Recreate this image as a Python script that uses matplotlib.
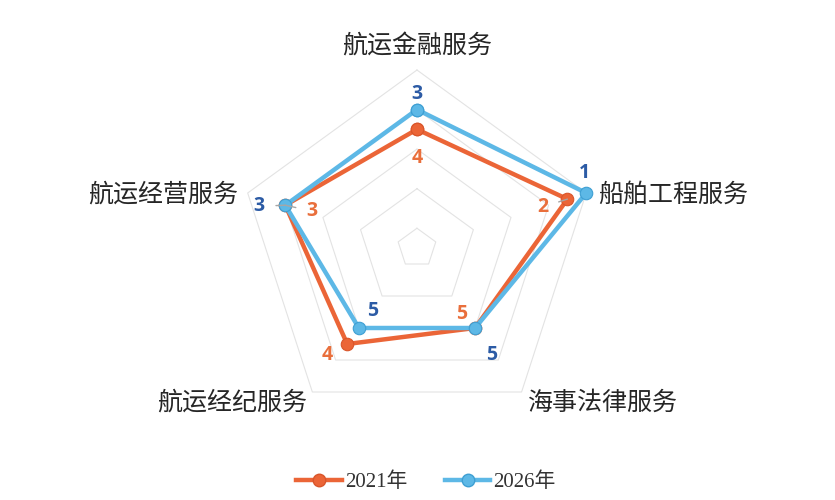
import numpy as np
import matplotlib
matplotlib.use("Agg")
import matplotlib.pyplot as plt
from matplotlib.lines import Line2D

plt.rcParams['font.family'] = ['Noto Sans CJK SC', 'DejaVu Sans']

# data: rank of each service (1 = best, drawn at the outer ring)
categories = ["航运金融服务", "船舶工程服务", "海事法律服务", "航运经纪服务", "航运经营服务"]
rank_2021 = [4, 2, 5, 4, 3]
rank_2026 = [3, 1, 5, 5, 3]
series_names = ["2021年", "2026年"]

RANK_BASE = 10          # rank 10 sits at the centre
rings = [1, 3, 5, 7, 9]

c_2021 = "#EB6537"
c_2026 = "#5DB8E6"
lab_2021 = "#E96F3C"
lab_2026 = "#2C5BA5"

fig = plt.figure(figsize=(8.35, 5), dpi=100)
ax = fig.add_axes([0.2862, 0.148, 0.4263, 0.712], projection="polar")
ax.set_theta_offset(np.pi / 2)
ax.set_theta_direction(-1)
ax.set_ylim(0, 9)
ax.grid(False)
ax.spines['polar'].set_visible(False)
ax.set_xticks([])
ax.set_yticks([])
ax.patch.set_alpha(0)

n = len(categories)
theta = np.arange(n) * 2 * np.pi / n
theta_c = np.append(theta, theta[0])

# pentagon grid
for r in rings:
    ax.plot(theta_c, [r] * (n + 1), color="#E3E3E3", lw=0.8, zorder=1, clip_on=False)

def radial(ranks):
    v = [RANK_BASE - x for x in ranks]
    return v + [v[0]]

r21 = radial(rank_2021)
r26 = radial(rank_2026)
ax.plot(theta_c, r21, color=c_2021, lw=3.2, marker="o", ms=9,
        mfc=c_2021, mec="#D9552A", mew=0.8, zorder=3, clip_on=False)
ax.plot(theta_c, r26, color=c_2026, lw=3.2, marker="o", ms=9,
        mfc=c_2026, mec="#3E9FD3", mew=0.8, zorder=4, clip_on=False)

# data labels: offsets in pixels, leader flag
off_2021 = [(0, -29, False), (-25, -8, True), (-13, 14, False), (-20, -11, False), (27, -6, True)]
off_2026 = [(0, 16, False), (-2, 20, False), (17, -27, False), (14, 17, False), (-26, -1, True)]

for ranks, offs, col in [(rank_2021, off_2021, lab_2021), (rank_2026, off_2026, lab_2026)]:
    for t, rk, (dx, dy, lead) in zip(theta, ranks, offs):
        kw = {}
        if lead:
            kw["arrowprops"] = dict(arrowstyle="-", color="#A6A6A6", lw=1.0,
                                    shrinkA=6, shrinkB=0)
        ax.annotate(str(rk), xy=(t, RANK_BASE - rk), xytext=(dx, dy),
                    textcoords="offset pixels", ha="center", va="center",
                    fontsize=14, fontweight="bold", color=col,
                    family=["Open Sans", "DejaVu Sans"], zorder=5,
                    annotation_clip=False, **kw)

# category labels, placed off the outer ring vertices
lab_off = [(0, 23, "center"), (12, -2, "left"), (6, -11, "left"), (-5, -11, "right"), (-10, -2, "right")]
for t, name, (dx, dy, ha) in zip(theta, categories, lab_off):
    ax.annotate(name, xy=(t, rings[-1]), xytext=(dx, dy), textcoords="offset pixels",
                ha=ha, va="center", fontsize=18, color="#262626", annotation_clip=False)

handles = [
    Line2D([], [], color=c_2021, lw=3.2, marker="o", ms=9, mfc=c_2021, mec="#D9552A"),
    Line2D([], [], color=c_2026, lw=3.2, marker="o", ms=9, mfc=c_2026, mec="#3E9FD3"),
]
fig.legend(handles, series_names, loc="lower center", bbox_to_anchor=(0.51, -0.022),
           ncol=2, frameon=False, handlelength=2.2, columnspacing=1.8,
           handletextpad=0.15, labelcolor="#333333",
           prop={"family": ["Liberation Serif", "Noto Sans CJK SC"], "size": 15})

fig.savefig("out.png", dpi=100)
